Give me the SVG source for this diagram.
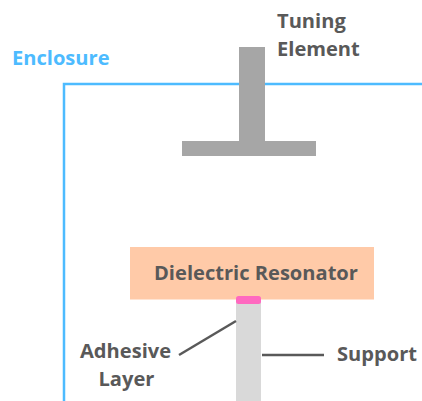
<svg xmlns="http://www.w3.org/2000/svg" width="422" height="401" viewBox="0 0 422 401">
<style>
text{font-family:"Open Sans","Noto Sans",sans-serif;font-weight:700;font-size:20.1px;fill:#595959}
.c{stroke:#595959;stroke-width:2.5;fill:none}
</style>
<rect width="422" height="401" fill="#fff"/>
<g id="enclosure"><path d="M64 401V84H422" fill="none" stroke="#4dbbff" stroke-width="2.5"/><text x="12" y="65" style="fill:#4dbbff">Enclosure</text></g>
<g id="tuning-element"><rect x="239" y="47" width="26" height="95" fill="#a6a6a6"/><rect x="182" y="141" width="134" height="15" fill="#a6a6a6"/><text x="277" y="28">Tuning</text><text x="277" y="56">Element</text></g>
<g id="resonator"><rect x="130" y="247" width="244" height="52.500" fill="#ffcaa8"/><text x="154" y="280">Dielectric Resonator</text></g>
<g id="support"><rect x="236" y="300" width="25" height="101" fill="#d9d9d9"/><text x="337" y="361">Support</text></g>
<g id="adhesive"><rect x="236" y="296" width="25" height="8" rx="2.5" fill="#ff69c0"/><text x="80" y="358">Adhesive</text><text x="98.500" y="386">Layer</text></g>
<g id="connectors"><path class="c" d="M236 321L179 355"/><path class="c" d="M262 355H324"/></g>
</svg>
